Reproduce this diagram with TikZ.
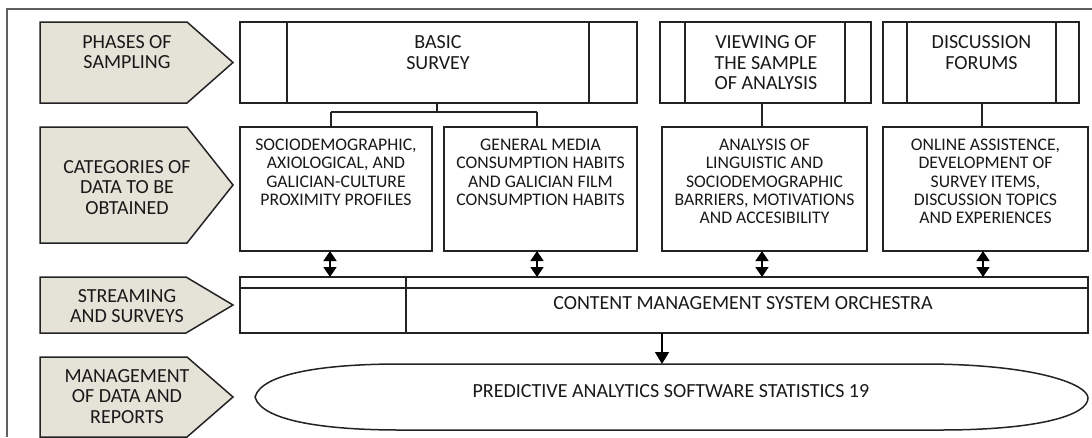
\documentclass[tikz,border=0pt]{standalone}
\usepackage{fontspec}
\setmainfont{Carlito}
\usetikzlibrary{arrows.meta,calc}
\definecolor{ink}{RGB}{35,35,35}
\definecolor{txt}{RGB}{25,25,25}
\definecolor{pentc}{RGB}{229,227,216}
\definecolor{framec}{RGB}{95,95,95}
\tikzset{
  box/.style={draw=ink, line width=1.5pt, fill=white, anchor=north west, inner sep=0pt, outer sep=0pt},
  big/.style={font=\fontsize{20}{20.4}\selectfont, text=txt, align=center, inner sep=0pt},
  small/.style={font=\fontsize{17.7}{18.3}\selectfont, text=txt, align=center, inner sep=0pt},
  pent/.style={draw=ink, fill=pentc, line width=1.5pt, line join=miter},
  conn/.style={draw=ink, line width=1.5pt},
  dbl/.style={draw=black, line width=1.5pt, {Triangle[width=13pt,length=10pt]}-{Triangle[width=13pt,length=10pt]}},
  arr/.style={draw=black, line width=1.5pt, -{Triangle[width=14pt,length=12pt]}}
}
\begin{document}
\begin{tikzpicture}[x=1pt,y=-1pt]
\useasboundingbox (0,0) rectangle (1092,437);
% frame
\draw[framec, line width=1.3pt] (7,437) -- (7,9) -- (1092,9);

% left pentagons
\draw[pent] (40,22) -- (187,22) -- (233,62.5) -- (187,103) -- (40,103) -- cycle;
\node[big] (p1) at (127,52) {PHASES OF\\SAMPLING};
\draw[pent] (40,127) -- (187,127) -- (233,185) -- (187,243) -- (40,243) -- cycle;
\node[big] (p2) at (127,187.5) {CATEGORIES OF\\DATA TO BE\\OBTAINED};
\draw[pent] (40,277) -- (186,277) -- (233,305) -- (186,333) -- (40,333) -- cycle;
\node[big] (p3) at (127,306) {STREAMING\\AND SURVEYS};
\draw[pent] (40,357) -- (187,357) -- (233,397) -- (187,437) -- (40,437) -- cycle;
\node[big] (p4) at (127,396.5) {MANAGEMENT\\OF DATA AND\\REPORTS};

% row 1
\node[box, minimum width=397, minimum height=81] (b1) at (240,22) {};
\draw[conn] ($(b1.north west)+(47,0)$) -- ($(b1.south west)+(47,0)$);
\draw[conn] ($(b1.north east)+(-48,0)$) -- ($(b1.south east)+(-48,0)$);
\node[big, anchor=north] (b1t) at (438,35.5) {BASIC\\SURVEY};

\node[box, minimum width=211, minimum height=81] (b2) at (660,22) {};
\draw[conn] ($(b2.north west)+(25,0)$) -- ($(b2.south west)+(25,0)$);
\draw[conn] ($(b2.north east)+(-26,0)$) -- ($(b2.south east)+(-26,0)$);
\node[big, anchor=north] (b2t) at (766,35.5) {VIEWING OF\\THE SAMPLE\\OF ANALYSIS};

\node[box, minimum width=196, minimum height=81] (b3) at (883,22) {};
\draw[conn] ($(b3.north west)+(24,0)$) -- ($(b3.south west)+(24,0)$);
\draw[conn] ($(b3.north east)+(-23,0)$) -- ($(b3.south east)+(-23,0)$);
\node[big, anchor=north] (b3t) at (981.5,35.5) {DISCUSSION\\FORUMS};

% row 2
\node[box, minimum width=192, minimum height=124] (c1) at (240,127) {};
\node[small, anchor=north] (c1t) at (336,139) {SOCIODEMOGRAPHIC,\\AXIOLOGICAL, AND\\GALICIAN-CULTURE\\PROXIMITY PROFILES};
\node[box, minimum width=193, minimum height=124] (c2) at (444,127) {};
\node[small, anchor=north] (c2t) at (540.5,139) {GENERAL MEDIA\\CONSUMPTION HABITS\\AND GALICIAN FILM\\CONSUMPTION HABITS};
\node[box, minimum width=205, minimum height=124] (c3) at (662,127) {};
\node[small, anchor=north] (c3t) at (764.5,139) {ANALYSIS OF\\LINGUISTIC AND\\SOCIODEMOGRAPHIC\\BARRIERS, MOTIVATIONS\\AND ACCESIBILITY};
\node[box, minimum width=205, minimum height=124] (c4) at (883,127) {};
\node[small, anchor=north] (c4t) at (985.5,139) {ONLINE ASSISTENCE,\\DEVELOPMENT OF\\SURVEY ITEMS,\\DISCUSSION TOPICS\\AND EXPERIENCES};

% tree connectors
\coordinate (tj) at (437,112);
\coordinate (tl) at (331,112);
\coordinate (tr) at (537,112);
\coordinate (v2) at (762,0);
\coordinate (v3) at (982,0);
\draw[conn] (b1.south -| tj) -- (tj);
\draw[conn] (tl) -- (tr);
\draw[conn] (tl) -- (c1.north -| tl);
\draw[conn] (tr) -- (c2.north -| tr);
\draw[conn] (b2.south -| v2) -- (c3.north -| v2);
\draw[conn] (b3.south -| v3) -- (c4.north -| v3);

% CMS
\node[box, minimum width=848, minimum height=56] (cms) at (240,277) {};
\draw[conn] ($(cms.north west)+(0,11)$) -- ($(cms.north east)+(0,11)$);
\draw[conn] ($(cms.north west)+(166,0)$) -- ($(cms.south west)+(166,0)$);
\node[big] (cmst) at (743,303.5) {CONTENT MANAGEMENT SYSTEM ORCHESTRA};

% double arrows
\coordinate (d1) at (330,0);
\coordinate (d2) at (537,0);
\coordinate (d3) at (762,0);
\coordinate (d4) at (983,0);
\draw[dbl] (c1.south -| d1) -- (cms.north -| d1);
\draw[dbl] (c2.south -| d2) -- (cms.north -| d2);
\draw[dbl] (c3.south -| d3) -- (cms.north -| d3);
\draw[dbl] (c4.south -| d4) -- (cms.north -| d4);

% ellipse
\draw[conn, fill=white] (255,397) .. controls (262,372) and (330,364) .. (400,364)
  -- (930,364) .. controls (1040,365) and (1088,385) .. (1088,398)
  .. controls (1088,415) and (1040,430) .. (940,430)
  -- (400,430) .. controls (330,430) and (262,422) .. (255,397) -- cycle;
\node[big] (pas) at (671,391) {PREDICTIVE ANALYTICS SOFTWARE STATISTICS 19};
\coordinate (ellT) at (662,364);
\draw[arr] (cms.south -| ellT) -- (ellT);
\end{tikzpicture}
\end{document}
